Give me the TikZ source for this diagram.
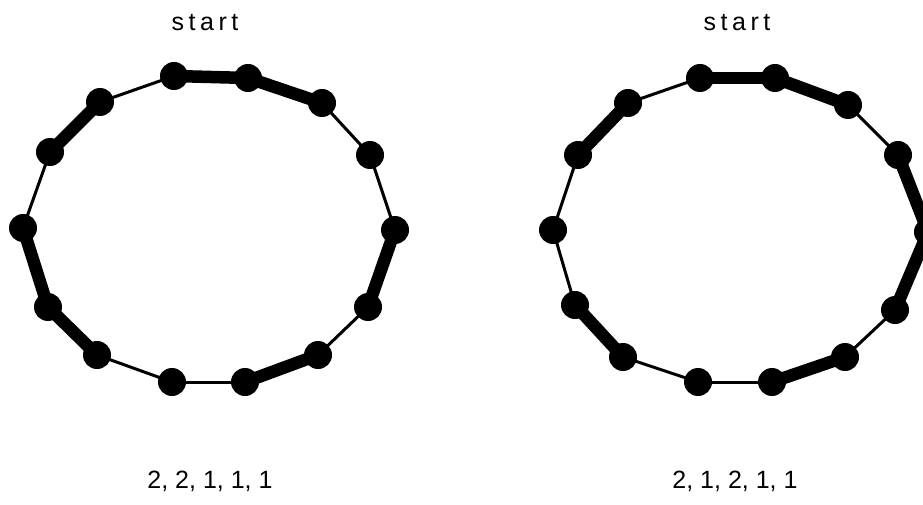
\documentclass[tikz,border=0pt]{standalone}
\usepackage{fontspec}
\setmainfont{Liberation Sans}
\usetikzlibrary{backgrounds}
\tikzset{
  bead/.style={circle,fill=black,inner sep=0pt,minimum size=28pt},
  thinlink/.style={draw=black,line width=3pt},
  thicklink/.style={draw=black,line width=12.5pt},
  lbl/.style={font=\fontsize{25}{28}\selectfont},
}
\begin{document}
\begin{tikzpicture}[x=1pt,y=-1pt]
  \useasboundingbox (0,0) rectangle (923,505);
  % left ring
  \foreach \n/\p in {1/{174,76},2/{248,78},3/{322,103},4/{370,155},5/{395,230},
    6/{368,307},7/{318,355},8/{245,382},9/{172,382},10/{97,355},11/{48,307},
    12/{23,228},13/{50,152},14/{100,102}}
    \node[bead] (L\n) at (\p) {};
  % right ring
  \foreach \n/\p in {1/{700,78},2/{775,78},3/{848,105},4/{898,155},5/{928,232},
    6/{895,310},7/{845,357},8/{772,382},9/{698,382},10/{623,357},11/{575,305},
    12/{553,230},13/{578,155},14/{628,103}}
    \node[bead] (R\n) at (\p) {};

  \begin{scope}[on background layer]
    \foreach \u/\v in {L1/L2,L2/L3,L5/L6,L7/L8,L10/L11,L11/L12,L13/L14,
      R1/R2,R2/R3,R4/R5,R5/R6,R7/R8,R10/R11,R13/R14}
      \draw[thicklink] (\u.center) -- (\v.center);
    \foreach \u/\v in {L3/L4,L4/L5,L6/L7,L8/L9,L9/L10,L12/L13,L14/L1,
      R3/R4,R6/R7,R8/R9,R9/R10,R11/R12,R12/R13,R14/R1}
      \draw[thinlink] (\u.center) -- (\v.center);
  \end{scope}

  % labels
  \node[lbl] (startL) at (205,23) {\addfontfeature{LetterSpace=18}start};
  \node[lbl] (startR) at (737,23) {\addfontfeature{LetterSpace=18}start};
  \node[lbl] (seqL) at (210,481) {2, 2, 1, 1, 1};
  \node[lbl] (seqR) at (735,481) {2, 1, 2, 1, 1};
\end{tikzpicture}
\end{document}
